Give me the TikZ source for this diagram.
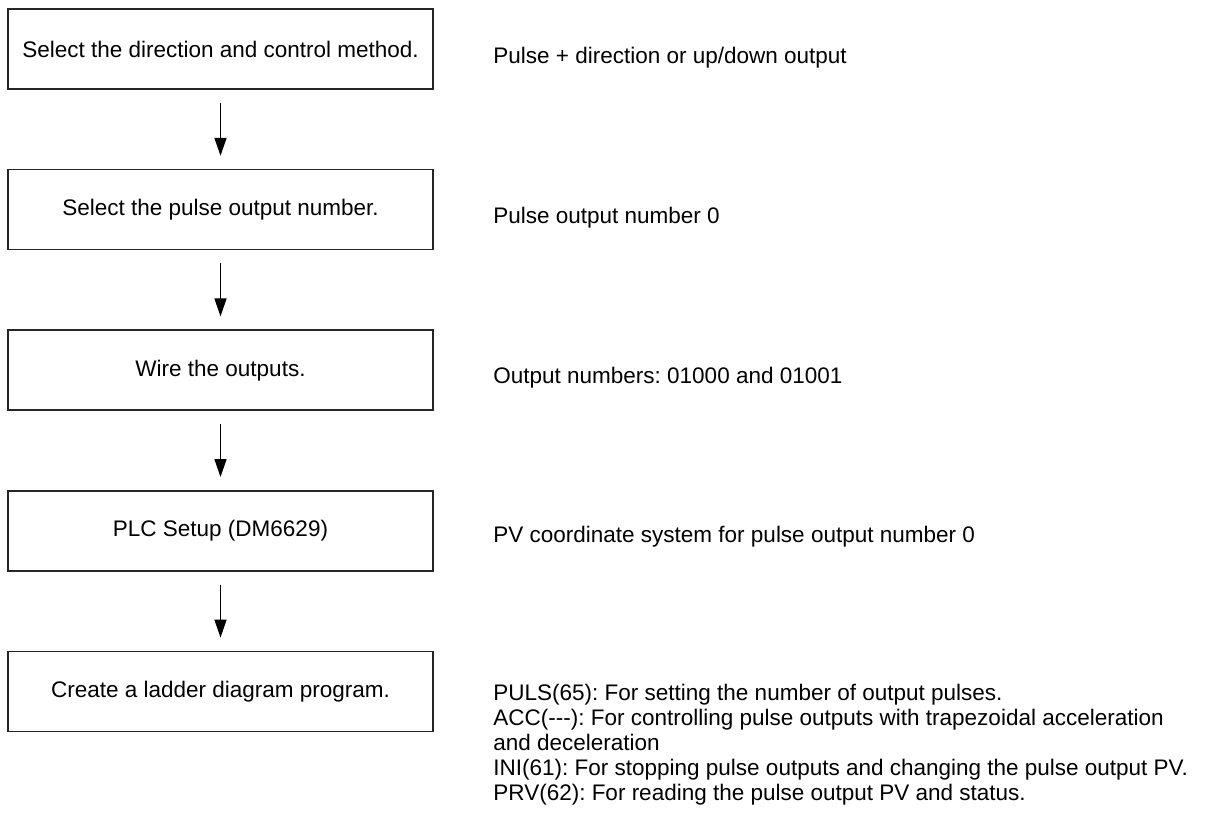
\documentclass[tikz,border=0pt]{standalone}
\usepackage{fontspec}
\setmainfont{Liberation Sans}
\usetikzlibrary{positioning,arrows.meta}
\frenchspacing
\tikzset{
	stepbox/.style={draw=black!85,line width=0.8pt,minimum width=212.5pt,minimum height=40pt,
		inner sep=0pt,font=\fontsize{11.25}{12.5}\selectfont},
	note/.style={anchor=base west,inner sep=0pt,align=left,font=\fontsize{11.25}{12.5}\selectfont},
	flow/.style={draw=black,line width=0.75pt,-{Triangle[length=9pt,width=6pt]},
		shorten <=6.5pt,shorten >=6.5pt},
}

\begin{document}
\begin{tikzpicture}[x=0.5pt,y=-0.5pt]
	\useasboundingbox (0,0) rectangle (1205,813);
	% steps on the left
	\node[stepbox] (s1) at (220.5,49) {Select the direction and control method.};
	\node[stepbox,below=39.5pt of s1] (s2) {Select the pulse output number.};
	\node[stepbox,below=39.5pt of s2] (s3) {Wire the outputs.};
	\node[stepbox,below=39.5pt of s3] (s4) {PLC Setup (DM6629)};
	\node[stepbox,below=39.5pt of s4] (s5) {Create a ladder diagram program.};
	\foreach \a/\b in {s1/s2,s2/s3,s3/s4,s4/s5}
	\draw[flow] (\a) -- (\b);
	% notes on the right (base of the last line for n5)
	\node[note] (n1) at (493,64) {Pulse + direction or up/down output};
	\node[note] (n2) at (493,223.5) {Pulse output number 0};
	\node[note] (n3) at (493,383) {Output numbers: 01000 and 01001};
	\node[note] (n4) at (493,542.5) {PV coordinate system for pulse output number 0};
	\node[note] (n5) at (493,800) {PULS(65): For setting the number of output pulses.\\
		ACC(-{}-{}-): For controlling pulse outputs with trapezoidal acceleration\\
		and deceleration\\
		INI(61): For stopping pulse outputs and changing the pulse output PV.\\
		PRV(62): For reading the pulse output PV and status.};
\end{tikzpicture}
\end{document}
